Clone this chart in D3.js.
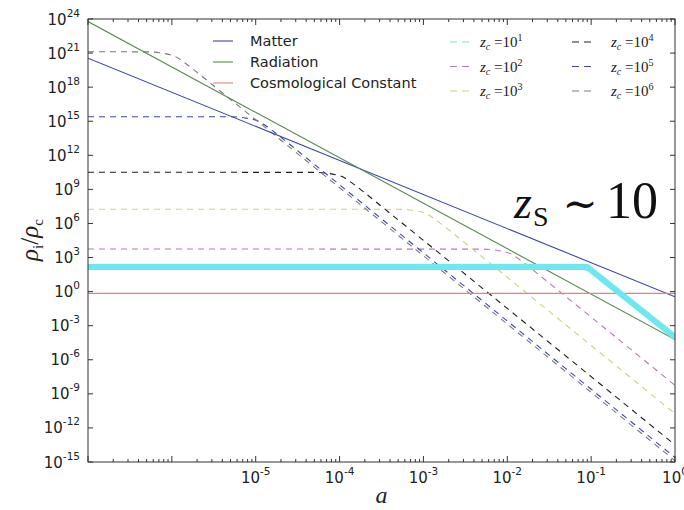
<!DOCTYPE html>
<html><head><meta charset="utf-8">
<script src="https://cdn.jsdelivr.net/npm/d3@7"></script>
<style>
html,body{margin:0;padding:0;background:#fff;}
svg{display:block;}
</style></head>
<body>
<svg id="chart" width="684" height="510"></svg>
<script>
// ---- data (a, rho_i/rho_c) ----
const xTickExps = [-7,-6,-5,-4,-3,-2,-1,0];
const xLabelExps = [-5,-4,-3,-2,-1,0];
const yTickExps = [-15,-12,-9,-6,-3,0,3,6,9,12,15,18,21,24];

const matter = [[1e-7, 3.5e20],[1, 0.35]];
const radiation = [[1e-7, 6e23],[1, 6e-5]];
const lambdaC = [[1e-7, 0.7],[1, 0.7]];
const zsHighlight = [[1e-7,145],[0.09,145],[1,1e-4]];

const zc1 = [[1e-7,145],[0.045,143],[0.0909,72],[0.136,11.7],[0.18,2.2],[0.36,0.035],[1,8.2e-5]];
const zc2 = [[1e-7,5.6e3],[5e-3,5.5e3],[1e-2,2.8e3],[1.5e-2,450],[2e-2,86],[4e-2,1.37],[1,5.6e-9]];
const zc3 = [[1e-7,1.8e7],[5e-4,1.77e7],[1e-3,9e6],[1.5e-3,1.45e6],[2e-3,2.8e5],[4e-3,4.4e3],[1,1.8e-11]];
const zc4 = [[1e-7,3.2e10],[5e-5,3.15e10],[1e-4,1.6e10],[1.5e-4,2.6e9],[2e-4,4.9e8],[4e-4,7.8e6],[1,3.2e-14]];
const zc5 = [[1e-7,2.5e15],[5e-6,2.46e15],[1e-5,1.25e15],[1.5e-5,2e14],[2e-5,3.85e13],[4e-5,6.1e11],[1,2.5e-15]];
const zc6 = [[1e-7,1.3e21],[5e-7,1.28e21],[1e-6,6.5e20],[1.5e-6,1.05e20],[2e-6,2e19],[4e-6,3.2e17],[1,1.3e-15]];

const solidSeries = [
  {name:"Matter", data:matter, color:"#3c46a8"},
  {name:"Radiation", data:radiation, color:"#5b8750"},
  {name:"Cosmological Constant", data:lambdaC, color:"#e8807c"}
];
const dashedSeries = [
  {exp:"1", data:zc1, color:"#8cd8d2"},
  {exp:"2", data:zc2, color:"#b878b8"},
  {exp:"3", data:zc3, color:"#cfcf86"},
  {exp:"4", data:zc4, color:"#1e1e1e"},
  {exp:"5", data:zc5, color:"#3a48a8"},
  {exp:"6", data:zc6, color:"#7a7a7a"}
];

// ---- layout ----
const L=88, R=675, T=19, B=462;
const svg = d3.select("#chart");
const x = d3.scaleLog().domain([1e-7,1]).range([L,R]);
const y = d3.scaleLog().domain([1e-15,1e24]).range([B,T]);

svg.append("defs").append("clipPath").attr("id","clip")
  .append("rect").attr("x",L).attr("y",T).attr("width",R-L).attr("height",B-T);

const plot = svg.append("g").attr("clip-path","url(#clip)");
const line = d3.line().x(d=>x(d[0])).y(d=>y(d[1]));
const curve = d3.line().x(d=>x(d[0])).y(d=>y(d[1])).curve(d3.curveMonotoneX);

dashedSeries.forEach(s=>{
  plot.append("path").attr("d",curve(s.data)).attr("fill","none")
    .attr("stroke",s.color).attr("stroke-width",1.1).attr("stroke-dasharray","6,5");
});
solidSeries.forEach(s=>{
  plot.append("path").attr("d",line(s.data)).attr("fill","none")
    .attr("stroke",s.color).attr("stroke-width",1.1);
});
plot.append("path").attr("d",line(zsHighlight)).attr("fill","none")
  .attr("stroke","#6ee8f0").attr("stroke-width",6).attr("stroke-linejoin","miter");

// ---- frame & ticks ----
const frame = svg.append("g").attr("stroke","#333").attr("stroke-width",1);
frame.append("rect").attr("x",L).attr("y",T).attr("width",R-L).attr("height",B-T).attr("fill","none");

const minorVals = [];
xTickExps.slice(0,-1).forEach(e=>{ for(let m=2;m<=9;m++) minorVals.push(m*Math.pow(10,e)); });
xTickExps.forEach(e=>{
  const px = x(Math.pow(10,e));
  frame.append("line").attr("x1",px).attr("x2",px).attr("y1",B).attr("y2",B-6);
  frame.append("line").attr("x1",px).attr("x2",px).attr("y1",T).attr("y2",T+6);
});
minorVals.forEach(v=>{
  const px = x(v);
  frame.append("line").attr("x1",px).attr("x2",px).attr("y1",B).attr("y2",B-3);
  frame.append("line").attr("x1",px).attr("x2",px).attr("y1",T).attr("y2",T+3);
});
yTickExps.forEach(e=>{
  const py = y(Math.pow(10,e));
  frame.append("line").attr("x1",L).attr("x2",L+5).attr("y1",py).attr("y2",py);
  frame.append("line").attr("x1",R).attr("x2",R-5).attr("y1",py).attr("y2",py);
});

// tick labels
const tickFont = "DejaVu Sans";
yTickExps.forEach(e=>{
  const t = svg.append("text").attr("x",L-8).attr("y",y(Math.pow(10,e))+5.5)
    .attr("text-anchor","end").attr("font-family",tickFont).attr("font-size",15).attr("fill","#222");
  t.append("tspan").text("10");
  t.append("tspan").attr("dy",-8).attr("font-size",10.5).text(String(e));
});
xLabelExps.forEach(e=>{
  const t = svg.append("text").attr("x",x(Math.pow(10,e))).attr("y",483)
    .attr("text-anchor","middle").attr("font-family",tickFont).attr("font-size",15).attr("fill","#222");
  t.append("tspan").text("10");
  t.append("tspan").attr("dy",-8).attr("font-size",10.5).text(String(e));
});

// axis labels
const serif = "Liberation Serif";
svg.append("text").attr("x",(L+R)/2).attr("y",503).attr("text-anchor","middle")
  .attr("font-family",serif).attr("font-style","italic").attr("font-size",24).attr("fill","#222").text("a");

const yl = svg.append("text").attr("transform","translate(38,240) rotate(-90)")
  .attr("text-anchor","middle").attr("font-family",serif).attr("font-size",25).attr("fill","#222");
yl.append("tspan").attr("font-style","italic").text("ρ");
yl.append("tspan").attr("font-size",15).attr("dy",5).text("i");
yl.append("tspan").attr("dy",-5).text("/");
yl.append("tspan").attr("font-style","italic").text("ρ");
yl.append("tspan").attr("font-size",15).attr("dy",5).text("c");

// legend 1
solidSeries.forEach((s,i)=>{
  const ly = 41 + i*21;
  svg.append("line").attr("x1",213).attr("x2",233).attr("y1",ly).attr("y2",ly)
    .attr("stroke",s.color).attr("stroke-width",1.1);
  svg.append("text").attr("x",250).attr("y",ly+5).attr("font-family",tickFont)
    .attr("font-size",14.5).attr("fill","#222").text(s.name);
});

// legend 2
dashedSeries.forEach((s,i)=>{
  const col = Math.floor(i/3), row = i%3;
  const lx = col===0 ? 450 : 572;
  const tx = col===0 ? 480 : 611;
  const ly = 42 + row*24.5;
  svg.append("line").attr("x1",lx).attr("x2",lx+22).attr("y1",ly).attr("y2",ly)
    .attr("stroke",s.color).attr("stroke-width",1.1).attr("stroke-dasharray","7,5");
  const t = svg.append("text").attr("x",tx).attr("y",ly+5).attr("font-family",serif)
    .attr("font-size",15).attr("fill","#222");
  t.append("tspan").attr("font-style","italic").text("z");
  t.append("tspan").attr("font-style","italic").attr("font-size",10).attr("dy",3).text("c");
  t.append("tspan").attr("dy",-3).text(" =10");
  t.append("tspan").attr("font-size",10).attr("dy",-6).text(s.exp);
});

// big annotation
svg.append("text").attr("x",514).attr("y",218).attr("font-family",serif).attr("font-style","italic")
  .attr("font-size",46).attr("fill","#111").text("z");
svg.append("text").attr("x",533).attr("y",226).attr("font-family",serif)
  .attr("font-size",28).attr("fill","#111").text("S");
svg.append("text").attr("x",580).attr("y",218).attr("text-anchor","middle").attr("font-family","DejaVu Serif")
  .attr("font-size",42).attr("fill","#111").text("∼");
svg.append("text").attr("x",606).attr("y",218).attr("font-family",serif)
  .attr("font-size",52).attr("fill","#111").text("10");
</script>
</body></html>
